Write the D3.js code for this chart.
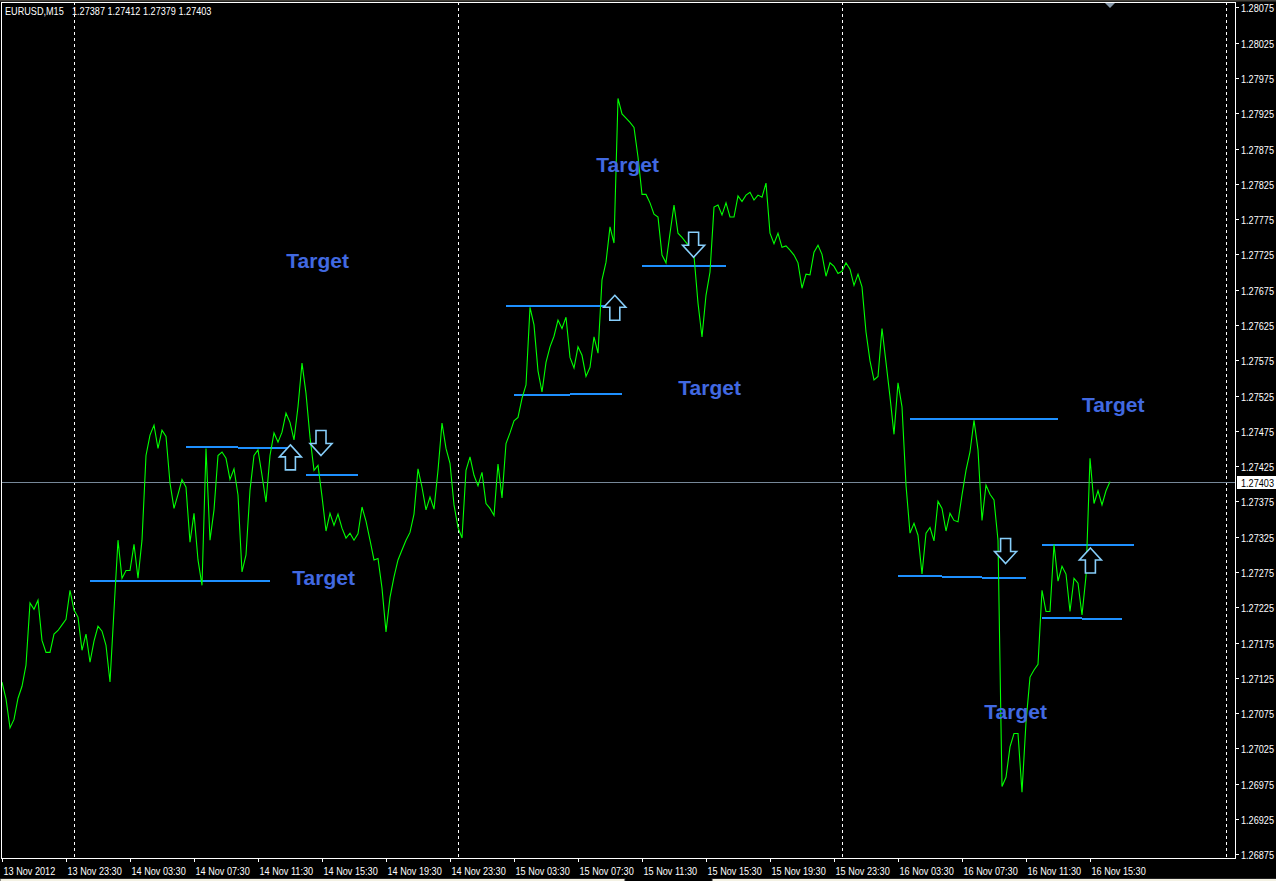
<!DOCTYPE html>
<html><head><meta charset="utf-8">
<script src="https://cdn.jsdelivr.net/npm/d3@7"></script>
<style>
html,body{margin:0;padding:0;background:#000;overflow:hidden;}
svg{display:block;}
</style></head><body>
<svg id="c" width="1276" height="881"></svg>
<script>
// ---------- DATA ----------
const symbolLabel = "EURUSD,M15";
const lastBarOHLC = ["1.27387", "1.27412", "1.27379", "1.27403"];
const currentPrice = 1.27403;

// M15 close prices, one per bar, starting 13 Nov 2012 19:30
const closes = [
 1.27119,1.27095,1.27054,1.27066,1.27096,1.27113,1.27143,1.27231,1.27222,1.27235,
 1.27178,1.27161,1.27161,1.27187,1.27192,1.27200,1.27208,1.27249,1.27221,1.27211,
 1.27164,1.27187,1.27147,1.27177,1.27198,1.27191,1.27171,1.27119,1.27221,1.27320,
 1.27266,1.27277,1.27277,1.27314,1.27266,1.27320,1.27440,1.27469,1.27483,1.27450,
 1.27476,1.27467,1.27401,1.27365,1.27385,1.27406,1.27395,1.27317,1.27358,1.27292,
 1.27256,1.27450,1.27320,1.27363,1.27440,1.27445,1.27436,1.27406,1.27421,1.27384,
 1.27275,1.27299,1.27391,1.27440,1.27448,1.27412,1.27374,1.27440,1.27472,1.27459,
 1.27473,1.27500,1.27487,1.27462,1.27509,1.27571,1.27528,1.27466,1.27419,1.27426,
 1.27382,1.27333,1.27358,1.27341,1.27357,1.27337,1.27323,1.27330,1.27320,1.27329,
 1.27367,1.27347,1.27320,1.27292,1.27294,1.27252,1.27190,1.27239,1.27268,1.27292,
 1.27306,1.27320,1.27331,1.27357,1.27421,1.27395,1.27363,1.27381,1.27364,1.27419,
 1.27486,1.27450,1.27429,1.27370,1.27338,1.27323,1.27419,1.27438,1.27412,1.27397,
 1.27416,1.27372,1.27365,1.27355,1.27428,1.27380,1.27457,1.27472,1.27489,1.27494,
 1.27521,1.27540,1.27650,1.27625,1.27560,1.27530,1.27572,1.27594,1.27609,1.27632,
 1.27620,1.27636,1.27579,1.27564,1.27594,1.27582,1.27552,1.27565,1.27608,1.27585,
 1.27689,1.27714,1.27764,1.27741,1.27946,1.27924,1.27918,1.27912,1.27905,1.27863,
 1.27810,1.27810,1.27798,1.27782,1.27778,1.27724,1.27713,1.27755,1.27795,1.27755,
 1.27749,1.27742,1.27735,1.27723,1.27656,1.27608,1.27667,1.27700,1.27792,1.27795,
 1.27781,1.27798,1.27778,1.27778,1.27808,1.27800,1.27809,1.27813,1.27802,1.27809,
 1.27806,1.27826,1.27755,1.27740,1.27755,1.27735,1.27737,1.27731,1.27724,1.27713,
 1.27677,1.27697,1.27696,1.27728,1.27738,1.27725,1.27694,1.27713,1.27708,1.27698,
 1.27701,1.27713,1.27704,1.27681,1.27697,1.27679,1.27615,1.27574,1.27547,1.27552,
 1.27620,1.27572,1.27523,1.27470,1.27543,1.27509,1.27398,1.27330,1.27344,1.27327,
 1.27272,1.27330,1.27338,1.27319,1.27375,1.27365,1.27333,1.27358,1.27348,1.27346,
 1.27384,1.27419,1.27445,1.27490,1.27448,1.27348,1.27398,1.27385,1.27377,1.27320,
 1.26971,1.26984,1.27027,1.27046,1.27046,1.26963,1.27062,1.27126,1.27136,1.27144,
 1.27249,1.27219,1.27219,1.27314,1.27262,1.27283,1.27272,1.27219,1.27266,1.27259,
 1.27214,1.27269,1.27436,1.27372,1.27390,1.27370,1.27390,1.27403
];

// time axis (bar index -> label)
const timeTickBars = [0,16,32,48,64,80,96,112,128,144,160,176,192,208,224,240,256,272];
const timeTickLabels = ["13 Nov 2012","13 Nov 23:30","14 Nov 03:30","14 Nov 07:30","14 Nov 11:30",
 "14 Nov 15:30","14 Nov 19:30","14 Nov 23:30","15 Nov 03:30","15 Nov 07:30","15 Nov 11:30",
 "15 Nov 15:30","15 Nov 19:30","15 Nov 23:30","16 Nov 03:30","16 Nov 07:30","16 Nov 11:30","16 Nov 15:30"];
// day separators (bar index of 00:00)
const daySeparatorBars = [18,114,210,306];

// price axis
const priceTickLabels = ["1.28075","1.28025","1.27975","1.27925","1.27875","1.27825","1.27775",
 "1.27725","1.27675","1.27625","1.27575","1.27525","1.27475","1.27425","1.27375","1.27325",
 "1.27275","1.27225","1.27175","1.27125","1.27075","1.27025","1.26975","1.26925","1.26875"];

// horizontal level segments
const levelStartBars = [22,46,59,76,126,128,142,160,227,224,235,245,260,260,270];
const levelEndBars   = [67,59,72,89,153,142,155,181,264,235,245,256,283,270,280];
const levelPrices    = [1.27262,1.27452,1.27450,1.27412,1.27652,1.27526,1.27527,1.27709,
                        1.27492,1.27269,1.27268,1.27266,1.27313,1.27210,1.27209];

// arrows (tip position)
const upArrowBars = [72.1,153.2,272.1];
const upArrowPrices = [1.27455,1.27667,1.27309];
const downArrowBars = [79.75,172.9,250.9];
const downArrowPrices = [1.27440,1.27721,1.27287];

// "Target" labels (centre bar, baseline price)
const targetTexts = ["Target","Target","Target","Target","Target","Target"];
const targetBars = [78.9,156.4,176.9,80.4,277.8,253.4];
const targetPrices = [1.27705,1.27842,1.27526,1.27256,1.27502,1.27067];

// ---------- DRAW ----------
const W = 1276, H = 881;
const L = 1, R = 1235, T = 2, B = 858;
const svg = d3.select('#c');
svg.append('rect').attr('width', W).attr('height', H).attr('fill', '#000');
svg.append('rect').attr('x',0).attr('y',0).attr('width',W).attr('height',1.5).attr('fill','#45423c');

const x = d3.scaleLinear().domain([-0.25, 308.25]).range([L, R]);
const y = d3.scaleLinear().domain([1.26875, 1.28075]).range([854.2, 7.4]);

const fontAxis = "'Liberation Sans', Arial, sans-serif";

// day separators
svg.append('g').selectAll('line').data(daySeparatorBars).join('line')
  .attr('x1', d => Math.round(x(d)) + 0.5).attr('x2', d => Math.round(x(d)) + 0.5)
  .attr('y1', T).attr('y2', B)
  .attr('stroke', '#fff').attr('stroke-width', 1).attr('stroke-dasharray', '3,3');

// current price line
svg.append('line').attr('x1', L).attr('x2', R)
  .attr('y1', Math.round(y(currentPrice)) + 0.5).attr('y2', Math.round(y(currentPrice)) + 0.5)
  .attr('stroke', '#778899').attr('stroke-width', 1);

// level segments
svg.append('g').selectAll('line').data(levelPrices).join('line')
  .attr('x1', (d, i) => x(levelStartBars[i])).attr('x2', (d, i) => x(levelEndBars[i]))
  .attr('y1', d => Math.round(y(d))).attr('y2', d => Math.round(y(d)))
  .attr('stroke', '#1e90ff').attr('stroke-width', 2);

// price line
const line = d3.line().x((d, i) => x(i)).y(d => y(d));
svg.append('path').datum(closes).attr('d', line)
  .attr('fill', 'none').attr('stroke', '#00ff00').attr('stroke-width', 1.1)
  .attr('stroke-linejoin', 'miter');

// arrows
const upPath = "M0,0 L11,12 L5,12 L5,25 L-5,25 L-5,12 L-11,12 Z";
const downPath = "M0,0 L11,-12 L5,-12 L5,-25 L-5,-25 L-5,-12 L-11,-12 Z";
svg.append('g').selectAll('path').data(upArrowPrices).join('path')
  .attr('d', upPath)
  .attr('transform', (d, i) => `translate(${x(upArrowBars[i])},${y(d)})`)
  .attr('fill', '#000').attr('stroke', '#87cefa').attr('stroke-width', 1.6);
svg.append('g').selectAll('path').data(downArrowPrices).join('path')
  .attr('d', downPath)
  .attr('transform', (d, i) => `translate(${x(downArrowBars[i])},${y(d)})`)
  .attr('fill', '#000').attr('stroke', '#87cefa').attr('stroke-width', 1.6);

// Target labels
svg.append('g').selectAll('text').data(targetTexts).join('text')
  .attr('x', (d, i) => x(targetBars[i])).attr('y', (d, i) => y(targetPrices[i]))
  .attr('text-anchor', 'middle')
  .attr('font-family', "'Liberation Sans', Arial, sans-serif").attr('font-weight', 'bold')
  .attr('font-size', 21).attr('fill', '#4169e1')
  .text(d => d);

// frame
svg.append('rect').attr('x', L + 0.5).attr('y', T + 0.5).attr('width', R - L).attr('height', B - T)
  .attr('fill', 'none').attr('stroke', '#fff').attr('stroke-width', 1);

// price axis
const pg = svg.append('g');
priceTickLabels.forEach(lbl => {
  const yy = Math.round(y(+lbl)) + 0.5;
  pg.append('line').attr('x1', R + 1).attr('x2', R + 4).attr('y1', yy).attr('y2', yy)
    .attr('stroke', '#fff');
  pg.append('text').attr('transform', `translate(${R + 6},${yy + 4}) scale(0.83,1)`)
    .attr('font-family', fontAxis).attr('font-size', 11).attr('fill', '#fff').text(lbl);
});
// current price label
const cy = Math.round(y(currentPrice)) + 0.5;
svg.append('rect').attr('x', R + 2).attr('y', cy - 6.5).attr('width', W - R - 2).attr('height', 13).attr('fill', '#fff');
svg.append('text').attr('transform', `translate(${R + 6},${cy + 4}) scale(0.83,1)`)
  .attr('font-family', fontAxis).attr('font-size', 11).attr('fill', '#000').text(lastBarOHLC[3]);

// time axis
const tg = svg.append('g');
timeTickBars.forEach((b, i) => {
  const xx = Math.round(x(b)) + 0.5;
  tg.append('line').attr('x1', xx).attr('x2', xx).attr('y1', B).attr('y2', B + 4).attr('stroke', '#fff');
  tg.append('text').attr('transform', `translate(${xx + 1},${B + 17}) scale(0.83,1)`)
    .attr('font-family', fontAxis).attr('font-size', 11).attr('fill', '#fff').text(timeTickLabels[i]);
});

// chart-shift marker
svg.append('path').attr('d', `M${x(277) - 5},3 L${x(277) + 5},3 L${x(277)},8 Z`).attr('fill', '#8899aa');

// header
svg.append('text').attr('transform', `translate(5,15) scale(0.83,1)`)
  .attr('font-family', fontAxis).attr('font-size', 11).attr('fill', '#fff').text(symbolLabel);
svg.append('text').attr('transform', `translate(72,15) scale(0.83,1)`)
  .attr('font-family', fontAxis).attr('font-size', 11).attr('fill', '#fff').text(lastBarOHLC.join(' '));

// bottom tab strip
svg.append('rect').attr('x', 0).attr('y', 878.5).attr('width', 625).attr('height', 4)
  .attr('fill', '#f4f2e4').attr('stroke', '#222');
svg.append('rect').attr('x', 712).attr('y', 878.5).attr('width', 570).attr('height', 4)
  .attr('fill', '#f4f2e4').attr('stroke', '#222');
</script>
</body></html>
